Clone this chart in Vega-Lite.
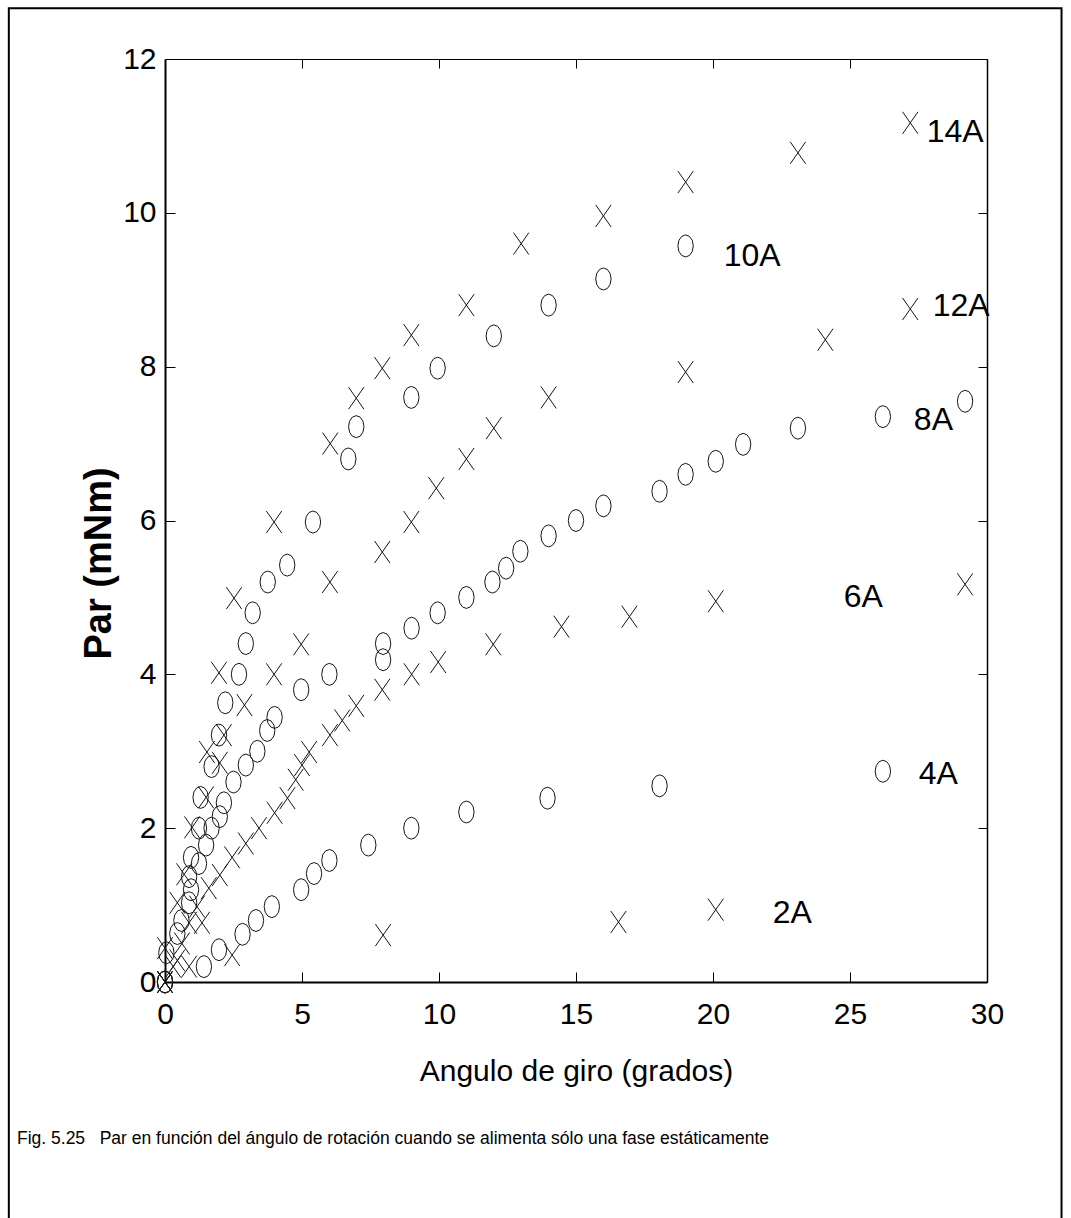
{
  "$schema": "https://vega.github.io/schema/vega-lite/v6.json",
  "width": 822,
  "height": 923,
  "autosize": {"type": "none"},
  "padding": {"left": 165, "top": 59, "right": 84, "bottom": 236},
  "background": "white",
  "config": {
    "view": {"stroke": null},
    "axis": {"grid": false, "labelColor": "black", "titleColor": "black", "domainColor": "black", "tickColor": "black", "labelOverlap": false, "labelFlush": false}
  },
  "title": {
    "text": "Fig. 5.25\u00a0\u00a0 Par en función del ángulo de rotación cuando se alimenta sólo una fase estáticamente",
    "orient": "bottom",
    "anchor": "start",
    "frame": "group",
    "dx": -148,
    "dy": -85,
    "offset": 0,
    "font": "Liberation Sans, Arial, sans-serif",
    "fontSize": 17.5,
    "fontWeight": "normal",
    "color": "black",
    "baseline": "alphabetic"
  },
  "datasets": {
    "pts": [
      {"serie": "2A", "angulo": 0, "par": 0},
      {"serie": "2A", "angulo": 0.45, "par": 0.28},
      {"serie": "2A", "angulo": 0.88, "par": 0.2},
      {"serie": "2A", "angulo": 2.45, "par": 0.35},
      {"serie": "2A", "angulo": 7.96, "par": 0.61},
      {"serie": "2A", "angulo": 16.55, "par": 0.78},
      {"serie": "2A", "angulo": 20.1, "par": 0.94},

      {"serie": "4A", "angulo": 0, "par": 0},
      {"serie": "4A", "angulo": 1.42, "par": 0.2},
      {"serie": "4A", "angulo": 1.97, "par": 0.42},
      {"serie": "4A", "angulo": 2.83, "par": 0.62},
      {"serie": "4A", "angulo": 3.32, "par": 0.8},
      {"serie": "4A", "angulo": 3.9, "par": 0.98},
      {"serie": "4A", "angulo": 4.97, "par": 1.2},
      {"serie": "4A", "angulo": 5.44, "par": 1.41},
      {"serie": "4A", "angulo": 6.0, "par": 1.58},
      {"serie": "4A", "angulo": 7.42, "par": 1.78},
      {"serie": "4A", "angulo": 8.99, "par": 2.0},
      {"serie": "4A", "angulo": 11.0, "par": 2.21},
      {"serie": "4A", "angulo": 13.96, "par": 2.39},
      {"serie": "4A", "angulo": 18.05, "par": 2.55},
      {"serie": "4A", "angulo": 26.2, "par": 2.74},

      {"serie": "6A", "angulo": 0, "par": 0},
      {"serie": "6A", "angulo": 0.3, "par": 0.2},
      {"serie": "6A", "angulo": 0.62, "par": 0.5},
      {"serie": "6A", "angulo": 0.88, "par": 0.77},
      {"serie": "6A", "angulo": 1.17, "par": 0.98},
      {"serie": "6A", "angulo": 1.6, "par": 1.22},
      {"serie": "6A", "angulo": 2.0, "par": 1.39},
      {"serie": "6A", "angulo": 2.45, "par": 1.62},
      {"serie": "6A", "angulo": 2.95, "par": 1.8},
      {"serie": "6A", "angulo": 3.43, "par": 2.0},
      {"serie": "6A", "angulo": 4.0, "par": 2.2},
      {"serie": "6A", "angulo": 4.47, "par": 2.39},
      {"serie": "6A", "angulo": 4.77, "par": 2.63},
      {"serie": "6A", "angulo": 5.0, "par": 2.82},
      {"serie": "6A", "angulo": 5.26, "par": 2.99},
      {"serie": "6A", "angulo": 6.02, "par": 3.21},
      {"serie": "6A", "angulo": 6.47, "par": 3.4},
      {"serie": "6A", "angulo": 6.98, "par": 3.59},
      {"serie": "6A", "angulo": 7.93, "par": 3.8},
      {"serie": "6A", "angulo": 9.0, "par": 4.0},
      {"serie": "6A", "angulo": 9.97, "par": 4.16},
      {"serie": "6A", "angulo": 11.98, "par": 4.39},
      {"serie": "6A", "angulo": 14.47, "par": 4.62},
      {"serie": "6A", "angulo": 16.95, "par": 4.75},
      {"serie": "6A", "angulo": 20.1, "par": 4.95},
      {"serie": "6A", "angulo": 29.2, "par": 5.17},

      {"serie": "8A", "angulo": 0, "par": 0},
      {"serie": "8A", "angulo": 0.45, "par": 0.63},
      {"serie": "8A", "angulo": 0.95, "par": 1.2},
      {"serie": "8A", "angulo": 1.24, "par": 1.54},
      {"serie": "8A", "angulo": 1.5, "par": 1.78},
      {"serie": "8A", "angulo": 1.7, "par": 2.0},
      {"serie": "8A", "angulo": 2.0, "par": 2.15},
      {"serie": "8A", "angulo": 2.15, "par": 2.33},
      {"serie": "8A", "angulo": 2.5, "par": 2.6},
      {"serie": "8A", "angulo": 2.95, "par": 2.82},
      {"serie": "8A", "angulo": 3.37, "par": 3.0},
      {"serie": "8A", "angulo": 3.73, "par": 3.27},
      {"serie": "8A", "angulo": 4.0, "par": 3.44},
      {"serie": "8A", "angulo": 4.97, "par": 3.8},
      {"serie": "8A", "angulo": 6.0, "par": 4.0},
      {"serie": "8A", "angulo": 7.96, "par": 4.19},
      {"serie": "8A", "angulo": 7.96, "par": 4.4},
      {"serie": "8A", "angulo": 9.0, "par": 4.6},
      {"serie": "8A", "angulo": 9.95, "par": 4.8},
      {"serie": "8A", "angulo": 11.0, "par": 5.0},
      {"serie": "8A", "angulo": 11.95, "par": 5.2},
      {"serie": "8A", "angulo": 12.45, "par": 5.38},
      {"serie": "8A", "angulo": 12.97, "par": 5.6},
      {"serie": "8A", "angulo": 14.0, "par": 5.8},
      {"serie": "8A", "angulo": 15.0, "par": 6.0},
      {"serie": "8A", "angulo": 16.0, "par": 6.19},
      {"serie": "8A", "angulo": 18.05, "par": 6.38},
      {"serie": "8A", "angulo": 19.0, "par": 6.6},
      {"serie": "8A", "angulo": 20.1, "par": 6.77},
      {"serie": "8A", "angulo": 21.1, "par": 6.99},
      {"serie": "8A", "angulo": 23.1, "par": 7.2},
      {"serie": "8A", "angulo": 26.2, "par": 7.35},
      {"serie": "8A", "angulo": 29.2, "par": 7.55},

      {"serie": "10A", "angulo": 0, "par": 0},
      {"serie": "10A", "angulo": 0.05, "par": 0.38},
      {"serie": "10A", "angulo": 0.6, "par": 0.8},
      {"serie": "10A", "angulo": 0.88, "par": 1.03},
      {"serie": "10A", "angulo": 0.88, "par": 1.37},
      {"serie": "10A", "angulo": 0.95, "par": 1.62},
      {"serie": "10A", "angulo": 1.24, "par": 2.0},
      {"serie": "10A", "angulo": 1.3, "par": 2.4},
      {"serie": "10A", "angulo": 1.7, "par": 2.8},
      {"serie": "10A", "angulo": 1.97, "par": 3.21},
      {"serie": "10A", "angulo": 2.2, "par": 3.63},
      {"serie": "10A", "angulo": 2.7, "par": 4.0},
      {"serie": "10A", "angulo": 2.95, "par": 4.4},
      {"serie": "10A", "angulo": 3.2, "par": 4.8},
      {"serie": "10A", "angulo": 3.75, "par": 5.2},
      {"serie": "10A", "angulo": 4.46, "par": 5.42},
      {"serie": "10A", "angulo": 5.4, "par": 5.98},
      {"serie": "10A", "angulo": 6.69, "par": 6.8},
      {"serie": "10A", "angulo": 6.98, "par": 7.22},
      {"serie": "10A", "angulo": 8.99, "par": 7.6},
      {"serie": "10A", "angulo": 9.95, "par": 7.98},
      {"serie": "10A", "angulo": 12.0, "par": 8.4},
      {"serie": "10A", "angulo": 14.0, "par": 8.8},
      {"serie": "10A", "angulo": 16.0, "par": 9.14},
      {"serie": "10A", "angulo": 19.0, "par": 9.57},

      {"serie": "12A", "angulo": 0, "par": 0},
      {"serie": "12A", "angulo": 1.35, "par": 0.77},
      {"serie": "12A", "angulo": 2.0, "par": 2.85},
      {"serie": "12A", "angulo": 2.9, "par": 3.6},
      {"serie": "12A", "angulo": 3.98, "par": 4.0},
      {"serie": "12A", "angulo": 4.97, "par": 4.39},
      {"serie": "12A", "angulo": 6.02, "par": 5.2},
      {"serie": "12A", "angulo": 7.93, "par": 5.59},
      {"serie": "12A", "angulo": 8.99, "par": 5.98},
      {"serie": "12A", "angulo": 9.9, "par": 6.42},
      {"serie": "12A", "angulo": 11.0, "par": 6.8},
      {"serie": "12A", "angulo": 12.0, "par": 7.2},
      {"serie": "12A", "angulo": 14.0, "par": 7.6},
      {"serie": "12A", "angulo": 19.0, "par": 7.93},
      {"serie": "12A", "angulo": 24.1, "par": 8.35},
      {"serie": "12A", "angulo": 27.2, "par": 8.75},

      {"serie": "14A", "angulo": 0, "par": 0},
      {"serie": "14A", "angulo": 0, "par": 0.44},
      {"serie": "14A", "angulo": 0.45, "par": 1.03},
      {"serie": "14A", "angulo": 0.7, "par": 1.4},
      {"serie": "14A", "angulo": 0.99, "par": 2.01},
      {"serie": "14A", "angulo": 1.5, "par": 2.4},
      {"serie": "14A", "angulo": 1.53, "par": 2.99},
      {"serie": "14A", "angulo": 2.15, "par": 3.21},
      {"serie": "14A", "angulo": 1.97, "par": 4.02},
      {"serie": "14A", "angulo": 2.52, "par": 4.99},
      {"serie": "14A", "angulo": 3.98, "par": 5.98},
      {"serie": "14A", "angulo": 6.03, "par": 7.0},
      {"serie": "14A", "angulo": 6.98, "par": 7.59},
      {"serie": "14A", "angulo": 7.93, "par": 7.98},
      {"serie": "14A", "angulo": 8.99, "par": 8.41},
      {"serie": "14A", "angulo": 11.0, "par": 8.8},
      {"serie": "14A", "angulo": 13.0, "par": 9.6},
      {"serie": "14A", "angulo": 16.0, "par": 9.96},
      {"serie": "14A", "angulo": 19.0, "par": 10.4},
      {"serie": "14A", "angulo": 23.1, "par": 10.78},
      {"serie": "14A", "angulo": 27.2, "par": 11.17}
    ],
    "etiquetas": [
      {"texto": "14A", "angulo": 27.8, "par": 11.05},
      {"texto": "10A", "angulo": 20.39, "par": 9.44},
      {"texto": "12A", "angulo": 28.02, "par": 8.79},
      {"texto": "8A", "angulo": 27.33, "par": 7.31},
      {"texto": "6A", "angulo": 24.77, "par": 5.0},
      {"texto": "4A", "angulo": 27.51, "par": 2.7},
      {"texto": "2A", "angulo": 22.18, "par": 0.9}
    ]
  },
  "layer": [
    {
      "data": {"values": [{}]},
      "mark": {"type": "rect", "fill": null, "stroke": "black", "strokeWidth": 2, "clip": false},
      "encoding": {
        "x": {"datum": -5.7, "type": "quantitative", "scale": {"domain": [0, 30], "nice": false, "zero": false}, "axis": null},
        "x2": {"datum": 32.72},
        "y": {"datum": 12.66, "type": "quantitative", "scale": {"domain": [0, 12], "nice": false, "zero": false}, "axis": null},
        "y2": {"datum": -3.2}
      }
    },
    {
      "data": {"name": "pts"},
      "mark": {"type": "point", "opacity": 0},
      "encoding": {
        "x": {"field": "angulo", "type": "quantitative", "axis": {"orient": "top", "values": [0, 5, 10, 15, 20, 25, 30], "labels": false, "title": null, "tickSize": -9, "tickWidth": 1, "domainWidth": 1}},
        "y": {"field": "par", "type": "quantitative", "axis": {"orient": "right", "values": [0, 2, 4, 6, 8, 10, 12], "labels": false, "title": null, "tickSize": -9, "tickWidth": 1, "domainWidth": 1.5}}
      }
    },
    {
      "data": {"name": "pts"},
      "mark": {"type": "point", "filled": false, "stroke": "#1a1414", "strokeWidth": 1, "opacity": 1, "size": 484},
      "encoding": {
        "x": {
          "field": "angulo", "type": "quantitative",
          "axis": {"orient": "bottom", "values": [0, 5, 10, 15, 20, 25, 30], "title": "Angulo de giro (grados)", "tickSize": -10, "tickWidth": 1, "domainWidth": 2, "labelPadding": 27, "labelFont": "Liberation Sans, Arial, sans-serif", "labelFontSize": 30, "titleFont": "Liberation Sans, Arial, sans-serif", "titleFontSize": 30, "titleFontWeight": "normal", "titleBaseline": "alphabetic", "titleY": 98}
        },
        "y": {
          "field": "par", "type": "quantitative",
          "axis": {"orient": "left", "values": [0, 2, 4, 6, 8, 10, 12], "title": "Par (mNm)", "tickSize": -10, "tickWidth": 1, "domainWidth": 2, "labelPadding": 19, "labelFont": "Liberation Sans, Arial, sans-serif", "labelFontSize": 30, "titleFont": "Liberation Sans, Arial, sans-serif", "titleFontSize": 38, "titleFontWeight": "bold", "titleBaseline": "middle", "titleX": -66, "titleY": 504}
        },
        "shape": {
          "field": "serie", "type": "nominal", "legend": null,
          "scale": {
            "domain": ["2A", "4A", "6A", "8A", "10A", "12A", "14A"],
            "range": [
              "M-0.7,-1L0.7,1M-0.7,1L0.7,-1",
              "M0,-1L0.35,-0.87L0.61,-0.5L0.7,0L0.61,0.5L0.35,0.87L0,1L-0.35,0.87L-0.61,0.5L-0.7,0L-0.61,-0.5L-0.35,-0.87Z",
              "M-0.7,-1L0.7,1M-0.7,1L0.7,-1",
              "M0,-1L0.35,-0.87L0.61,-0.5L0.7,0L0.61,0.5L0.35,0.87L0,1L-0.35,0.87L-0.61,0.5L-0.7,0L-0.61,-0.5L-0.35,-0.87Z",
              "M0,-1L0.35,-0.87L0.61,-0.5L0.7,0L0.61,0.5L0.35,0.87L0,1L-0.35,0.87L-0.61,0.5L-0.7,0L-0.61,-0.5L-0.35,-0.87Z",
              "M-0.7,-1L0.7,1M-0.7,1L0.7,-1",
              "M-0.7,-1L0.7,1M-0.7,1L0.7,-1"
            ]
          }
        }
      }
    },
    {
      "data": {"name": "etiquetas"},
      "mark": {"type": "text", "align": "left", "baseline": "middle", "font": "Liberation Sans, Arial, sans-serif", "fontSize": 32, "color": "black"},
      "encoding": {
        "x": {"field": "angulo", "type": "quantitative", "axis": null},
        "y": {"field": "par", "type": "quantitative", "axis": null},
        "text": {"field": "texto"}
      }
    }
  ],
  "resolve": {"axis": {"x": "independent", "y": "independent"}}
}
